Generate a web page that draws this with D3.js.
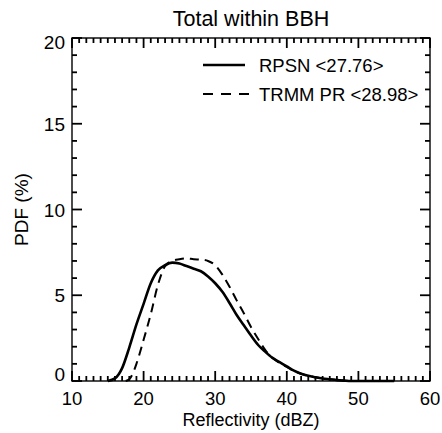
<!DOCTYPE html>
<html>
<head>
<meta charset="utf-8">
<script src="https://cdn.jsdelivr.net/npm/d3@7"></script>
<style>
  html, body { margin: 0; padding: 0; background: #fff; }
  svg text { font-family: "Liberation Sans", Arial, sans-serif; fill: #000; }
</style>
</head>
<body>
<svg id="chart" width="442" height="433"></svg>
<script>
// ---- data ----
const title = "Total within BBH";
const xLabel = "Reflectivity (dBZ)";
const yLabel = "PDF (%)";
const xTicks = [10, 20, 30, 40, 50, 60];
const yTicks = [0, 5, 10, 15, 20];
const seriesNames = ["RPSN <27.76>", "TRMM PR <28.98>"];

const rpsnDbz = [15, 16, 17, 18, 19, 20, 21, 22, 23, 24, 25, 26, 27, 28, 29, 30, 31, 32, 33, 34, 35, 36, 37, 38, 39, 40, 41, 42, 43, 44, 45, 46, 47, 48, 49, 50, 51, 52, 53, 54, 55];
const rpsnPdf = [0, 0.15, 0.75, 1.95, 3.3, 4.5, 5.7, 6.45, 6.75, 6.9, 6.85, 6.7, 6.55, 6.4, 6.1, 5.7, 5.2, 4.55, 3.85, 3.25, 2.65, 2.1, 1.7, 1.35, 1.1, 0.85, 0.6, 0.42, 0.3, 0.22, 0.15, 0.1, 0.05, 0.02, 0, 0, 0, 0, 0, 0, 0];

const trmmDbz = [17.5, 18, 18.5, 19, 20, 21, 22, 23, 24, 25, 26, 27, 28, 29, 30, 31, 32, 33, 34, 35, 36, 37, 38, 39, 40, 41, 42, 43, 44, 45, 46, 47, 48, 49, 50, 51, 52, 53, 54, 55];
const trmmPdf = [0, 0.1, 0.45, 1.0, 2.4, 3.9, 5.6, 6.7, 7.0, 7.1, 7.15, 7.1, 7.08, 7.0, 6.75, 6.2, 5.5, 4.7, 3.95, 3.15, 2.45, 1.8, 1.35, 1.05, 0.82, 0.58, 0.42, 0.3, 0.22, 0.15, 0.1, 0.05, 0.02, 0, 0, 0, 0, 0, 0, 0];

// ---- layout ----
const svg = d3.select("#chart");
const L = 72, R = 430, T = 38, B = 381;
const x = d3.scaleLinear().domain([10, 60]).range([L, R]);
const y = d3.scaleLinear().domain([0, 20]).range([B, T]);

// inward ticks on all four sides
const xAll = x.ticks(50);
const yAll = y.ticks(20);
const tickG = svg.append("g").attr("class", "ticks");
function addTick(x1, y1, x2, y2) {
  tickG.append("path").attr("d", `M${x1},${y1}L${x2},${y2}`)
    .attr("fill", "none").attr("stroke", "#000").attr("stroke-width", 1.8);
}
xAll.forEach(v => {
  const len = (Math.round(v) % 10 === 0) ? 10 : 5;
  addTick(x(v), B, x(v), B - len);
  addTick(x(v), T, x(v), T + len);
});
yAll.forEach(v => {
  const len = (Math.round(v) % 5 === 0) ? 10 : 5;
  addTick(L, y(v), L + len, y(v));
  addTick(R, y(v), R - len, y(v));
});

// frame
svg.append("rect").attr("x", L).attr("y", T).attr("width", R - L).attr("height", B - T)
  .attr("fill", "none").attr("stroke", "#000").attr("stroke-width", 1.4);

// tick labels
svg.append("g").selectAll("text").data(xTicks).join("text")
  .attr("x", d => x(d)).attr("y", 405).attr("text-anchor", "middle")
  .attr("font-size", 18.5).text(d => d);
svg.append("g").selectAll("text").data(yTicks).join("text")
  .attr("x", 65).attr("y", d => d === 0 ? B : (d === 20 ? T + 10.5 : y(d) + 7))
  .attr("text-anchor", "end").attr("font-size", 19).text(d => d);

// axis titles
svg.append("text").attr("x", (L + R) / 2).attr("y", 426).attr("text-anchor", "middle")
  .attr("font-size", 18).text(xLabel);
svg.append("text").attr("transform", `translate(28,${(T + B) / 2}) rotate(-90)`)
  .attr("text-anchor", "middle").attr("font-size", 19).text(yLabel);
svg.append("text").attr("x", (L + R) / 2).attr("y", 26).attr("text-anchor", "middle")
  .attr("font-size", 21.5).text(title);

// curves
const lineGen = d3.line().x(d => x(d[0])).y(d => y(d[1])).curve(d3.curveMonotoneX);
svg.append("path").datum(d3.zip(rpsnDbz, rpsnPdf)).attr("d", lineGen)
  .attr("fill", "none").attr("stroke", "#000").attr("stroke-width", 2.6);
svg.append("path").datum(d3.zip(trmmDbz, trmmPdf)).attr("d", lineGen)
  .attr("fill", "none").attr("stroke", "#000").attr("stroke-width", 2)
  .attr("stroke-dasharray", "9,6");

// legend
const lg = svg.append("g");
lg.append("line").attr("x1", 203).attr("x2", 245).attr("y1", 65).attr("y2", 65)
  .attr("stroke", "#000").attr("stroke-width", 2.4);
lg.append("line").attr("x1", 203).attr("x2", 250).attr("y1", 94).attr("y2", 94)
  .attr("stroke", "#000").attr("stroke-width", 2).attr("stroke-dasharray", "10,8");
lg.append("text").attr("x", 259).attr("y", 72).attr("font-size", 18.5).text(seriesNames[0]);
lg.append("text").attr("x", 259).attr("y", 101).attr("font-size", 18.5).text(seriesNames[1]);
</script>
</body>
</html>
